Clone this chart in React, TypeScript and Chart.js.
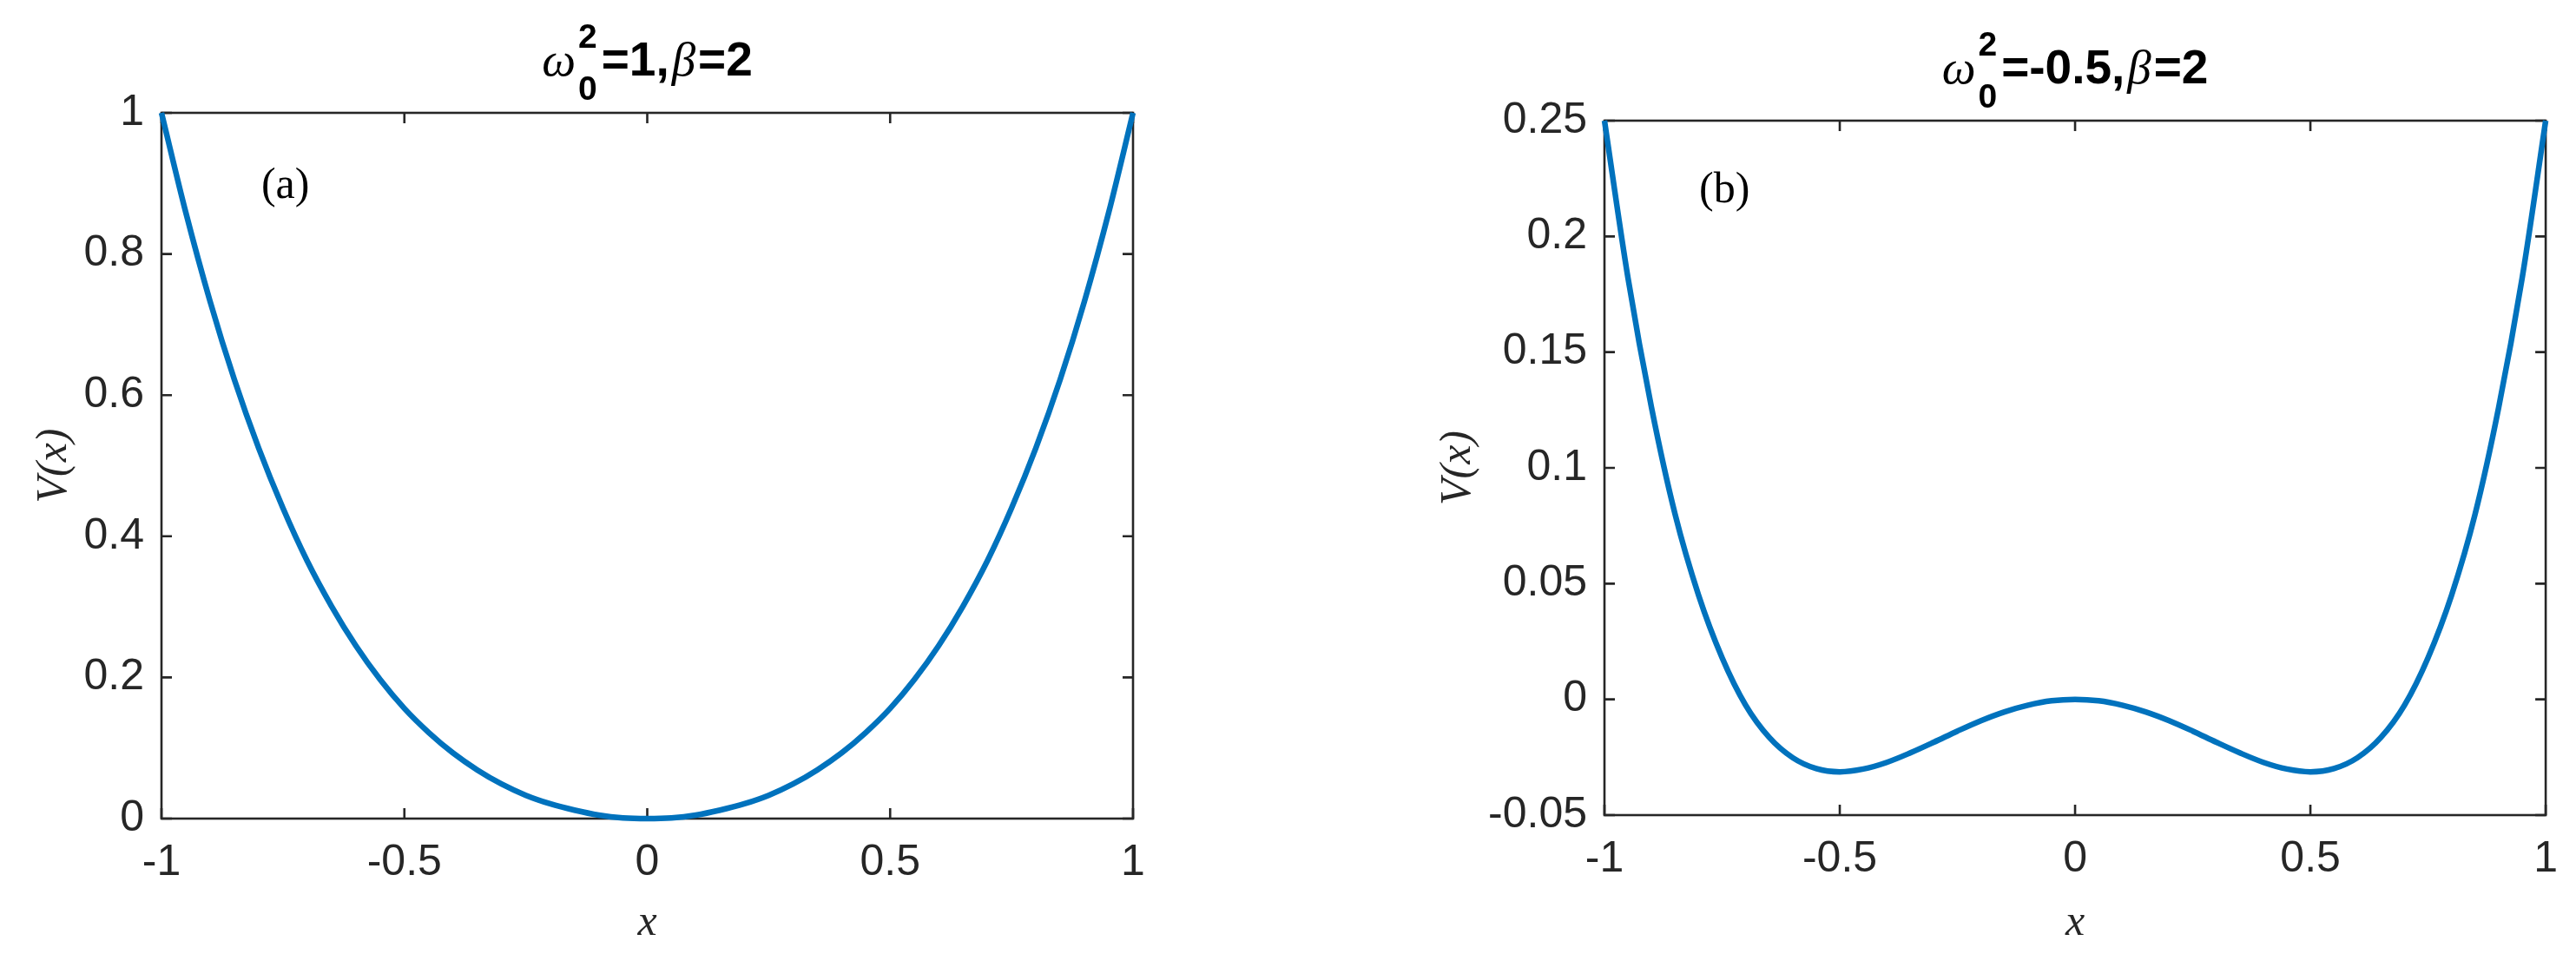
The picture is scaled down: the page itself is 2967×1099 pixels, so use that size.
import React, { useEffect, useRef } from "react"
import { Chart, registerables } from "chart.js"

Chart.register(...registerables)

// sample positions along x, read every 0.05
const xSamples = [
  -1, -0.95, -0.9, -0.85, -0.8, -0.75, -0.7, -0.65, -0.6, -0.55, -0.5,
  -0.45, -0.4, -0.35, -0.3, -0.25, -0.2, -0.15, -0.1, -0.05, 0,
  0.05, 0.1, 0.15, 0.2, 0.25, 0.3, 0.35, 0.4, 0.45, 0.5,
  0.55, 0.6, 0.65, 0.7, 0.75, 0.8, 0.85, 0.9, 0.95, 1,
]

// (a) single well
const potentialA = [
  1, 0.859, 0.733, 0.622, 0.525, 0.44, 0.365, 0.301, 0.245, 0.197, 0.156,
  0.122, 0.093, 0.069, 0.049, 0.033, 0.021, 0.012, 0.005, 0.001, 0,
  0.001, 0.005, 0.012, 0.021, 0.033, 0.049, 0.069, 0.093, 0.122, 0.156,
  0.197, 0.245, 0.301, 0.365, 0.44, 0.525, 0.622, 0.733, 0.859, 1,
]

// (b) double well
const potentialB = [
  0.25, 0.182, 0.126, 0.08, 0.045, 0.018, -0.0025, -0.0164, -0.0252, -0.0299, -0.0313,
  -0.0301, -0.0272, -0.0231, -0.0185, -0.0137, -0.0092, -0.0054, -0.0025, -0.0006, 0,
  -0.0006, -0.0025, -0.0054, -0.0092, -0.0137, -0.0185, -0.0231, -0.0272, -0.0301, -0.0313,
  -0.0299, -0.0252, -0.0164, -0.0025, 0.018, 0.045, 0.08, 0.126, 0.182, 0.25,
]

const xTicks = [-1, -0.5, 0, 0.5, 1]
const xTickLabels = ["-1", "-0.5", "0", "0.5", "1"]

const yTicksA = [0, 0.2, 0.4, 0.6, 0.8, 1]
const yTickLabelsA = ["0", "0.2", "0.4", "0.6", "0.8", "1"]

const yTicksB = [-0.05, 0, 0.05, 0.1, 0.15, 0.2, 0.25]
const yTickLabelsB = ["-0.05", "0", "0.05", "0.1", "0.15", "0.2", "0.25"]

const titleA = ["=1,", "=2"]
const titleB = ["=-0.5,", "=2"]

const LINE_COLOR = "#0072BD"
const AXIS_COLOR = "#262626"
const PAGE_H = 1099

interface Box {
  left: number
  top: number
  right: number
  bottom: number
}

interface PanelProps {
  offsetX: number
  width: number
  plot: Box
  values: number[]
  yTicks: number[]
  yTickLabels: string[]
  yMin: number
  yMax: number
  yTitleX: number
  title: string[]
  tag: string
  tagAt: [number, number]
}

function Panel(props: PanelProps) {
  const ref = useRef<HTMLCanvasElement>(null)

  useEffect(() => {
    let chart: Chart | null = null
    if (!ref.current) return
    const { plot, width } = props

    const frame = {
      id: "frame",
      beforeDatasetsDraw(c: Chart) {
        const { ctx, chartArea: a } = c
        const xs = c.scales.x
        const ys = c.scales.y
        ctx.save()
        ctx.strokeStyle = AXIS_COLOR
        ctx.lineWidth = 2.6
        ctx.strokeRect(a.left, a.top, a.right - a.left, a.bottom - a.top)
        const tl = 12
        ctx.beginPath()
        for (const v of xTicks) {
          const px = xs.getPixelForValue(v)
          ctx.moveTo(px, a.bottom)
          ctx.lineTo(px, a.bottom - tl)
          ctx.moveTo(px, a.top)
          ctx.lineTo(px, a.top + tl)
        }
        for (const v of props.yTicks) {
          const py = ys.getPixelForValue(v)
          ctx.moveTo(a.left, py)
          ctx.lineTo(a.left + tl, py)
          ctx.moveTo(a.right, py)
          ctx.lineTo(a.right - tl, py)
        }
        ctx.stroke()
        ctx.restore()
      },
      afterDraw(c: Chart) {
        const { ctx, chartArea: a } = c
        ctx.save()
        ctx.fillStyle = "#000"
        ctx.textBaseline = "alphabetic"
        const greek = 'italic 55px "Liberation Serif"'
        const main = 'bold 55px "Liberation Sans", Arial'
        const small = 'bold 39px "Liberation Sans", Arial'
        const pieces: { text: string; font: string; stack?: boolean }[] = [
          { text: "\u03c9", font: greek },
          { text: "", font: small, stack: true },
          { text: props.title[0], font: main },
          { text: "\u03b2", font: greek },
          { text: props.title[1], font: main },
        ]
        const widths = pieces.map((p) => {
          ctx.font = p.font
          if (p.stack) return Math.max(ctx.measureText("2").width, ctx.measureText("0").width) + 2
          return ctx.measureText(p.text).width
        })
        const gap = 3
        const total = widths.reduce((s, w) => s + w, 0) + gap * (pieces.length - 1)
        let x = (a.left + a.right) / 2 - total / 2
        const base = a.top - 43
        pieces.forEach((p, i) => {
          ctx.font = p.font
          ctx.textAlign = "left"
          if (p.stack) {
            ctx.fillText("2", x, base - 32)
            ctx.fillText("0", x, base + 28)
          } else {
            ctx.fillText(p.text, x, base)
          }
          x += widths[i] + gap
        })
        // panel tag
        ctx.font = '50px "Liberation Serif"'
        ctx.textAlign = "center"
        ctx.textBaseline = "middle"
        ctx.fillText(
          props.tag,
          c.scales.x.getPixelForValue(props.tagAt[0]),
          c.scales.y.getPixelForValue(props.tagAt[1]),
        )
        ctx.restore()
      },
    }

    const tickFont = { family: '"Liberation Sans", Arial', size: 50 }
    const titleFont = { family: '"Liberation Serif", "Times New Roman"', size: 50, style: "italic" as const }

    chart = new Chart(ref.current, {
      type: "line",
      data: {
        datasets: [
          {
            data: xSamples.map((x, i) => ({ x, y: props.values[i] })),
            borderColor: LINE_COLOR,
            borderWidth: 6.5,
            pointRadius: 0,
            cubicInterpolationMode: "monotone",
            fill: false,
            clip: 8,
          },
        ],
      },
      options: {
        animation: false,
        responsive: false,
        devicePixelRatio: 1,
        layout: { padding: { left: 0, top: plot.top, right: width - plot.right, bottom: 0 } },
        plugins: {
          legend: { display: false },
          tooltip: { enabled: false },
          title: { display: false },
        },
        scales: {
          x: {
            type: "linear",
            min: -1,
            max: 1,
            afterBuildTicks: (s: any) => {
              s.ticks = xTicks.map((v) => ({ value: v }))
            },
            afterFit: (s: any) => {
              s.height = PAGE_H - plot.bottom
            },
            grid: { display: false, drawTicks: false },
            border: { display: false },
            ticks: {
              padding: 21,
              font: tickFont,
              color: AXIS_COLOR,
              maxRotation: 0,
              autoSkip: false,
              callback: (_v: any, i: number) => xTickLabels[i],
            },
            title: {
              display: true,
              text: "x",
              font: titleFont,
              color: AXIS_COLOR,
              padding: { top: 0, bottom: 5 },
            },
          },
          y: {
            type: "linear",
            min: props.yMin,
            max: props.yMax,
            afterBuildTicks: (s: any) => {
              s.ticks = props.yTicks.map((v) => ({ value: v }))
            },
            afterFit: (s: any) => {
              s.width = plot.left
            },
            grid: { display: false, drawTicks: false },
            border: { display: false },
            ticks: {
              padding: 20,
              font: tickFont,
              color: AXIS_COLOR,
              autoSkip: false,
              callback: (_v: any, i: number) => props.yTickLabels[i],
            },
            title: {
              display: true,
              text: "V(x)",
              font: titleFont,
              color: AXIS_COLOR,
              padding: { top: props.yTitleX - 30, bottom: 0 },
            },
          },
        },
      },
      plugins: [frame],
    })

    return () => {
      chart?.destroy()
    }
  }, [props])

  return (
    <canvas
      ref={ref}
      width={props.width}
      height={PAGE_H}
      style={{ position: "absolute", left: props.offsetX, top: 0, width: props.width, height: PAGE_H }}
    />
  )
}

const panelA: PanelProps = {
  offsetX: 0,
  width: 1483,
  plot: { left: 186, top: 130, right: 1305, bottom: 943 },
  values: potentialA,
  yTicks: yTicksA,
  yTickLabels: yTickLabelsA,
  yMin: 0,
  yMax: 1,
  yTitleX: 63,
  title: titleA,
  tag: "(a)",
  tagAt: [-0.745, 0.895],
}

const panelB: PanelProps = {
  offsetX: 1483,
  width: 1484,
  plot: { left: 365, top: 139, right: 1450, bottom: 939 },
  values: potentialB,
  yTicks: yTicksB,
  yTickLabels: yTickLabelsB,
  yMin: -0.05,
  yMax: 0.25,
  yTitleX: 197,
  title: titleB,
  tag: "(b)",
  tagAt: [-0.745, 0.2196],
}

export default function App() {
  return (
    <div style={{ position: "absolute", left: 0, top: 0, width: 2967, height: PAGE_H, background: "#fff" }}>
      <Panel {...panelA} />
      <Panel {...panelB} />
    </div>
  )
}
